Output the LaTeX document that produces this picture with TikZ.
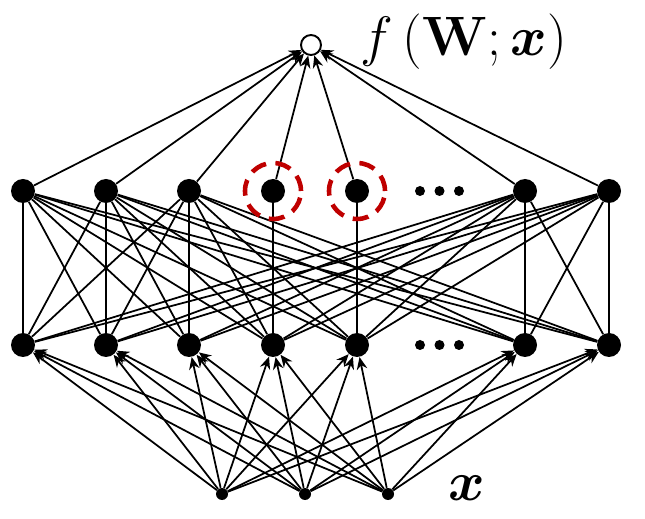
\documentclass[tikz,border=0pt]{standalone}
\usepackage{amsmath,amssymb,bm}
\usepackage{graphicx}
\usepackage{tikz}
\usetikzlibrary{arrows.meta}

\newcommand{\bigmath}[1]{\scalebox{1.27}{\fontsize{24.88}{28}\selectfont $#1$}}

\begin{document}
\begin{tikzpicture}[
  unit/.style={circle,fill=black,inner sep=0pt,minimum size=0.48cm},
  inp/.style={circle,fill=black,inner sep=0pt,minimum size=0.24cm},
  outp/.style={circle,draw=black,line width=1.1pt,fill=white,inner sep=0pt,minimum size=0.4cm},
  conn/.style={line width=1pt},
  feed/.style={line width=1pt,-{Stealth[length=7pt,width=6pt]}},
  pick/.style={draw=red!75!black,line width=2.6pt,dash pattern=on 0.32cm off 0.19cm}
]
\useasboundingbox (0,0) rectangle (12.9,10.36);

% hidden layers
\foreach \n/\x in {1/0.46,2/2.12,3/3.78,4/5.46,5/7.14,6/10.50,7/12.18} {
  \node[unit] (a\n) at (\x,3.46) {};
  \node[unit] (b\n) at (\x,6.54) {};
}
\foreach \x in {8.40,8.79,9.18} {
  \fill (\x,3.46) circle (0.1);
  \fill (\x,6.54) circle (0.1);
}
% input and output
\foreach \n/\x in {1/4.44,2/6.10,3/7.76}
  \node[inp] (i\n) at (\x,0.48) {};
\node[outp] (y) at (6.22,9.46) {};

\foreach \s in {1,2,3}
  \foreach \t in {1,...,7}
    \draw[feed] (i\s) -- (a\t);
% b4 and b5 only keep their vertical link
\foreach \s in {1,...,7}
  \foreach \t in {1,2,3,6,7}
    \draw[conn] (a\s) -- (b\t);
\draw[conn] (a4) -- (b4);
\draw[conn] (a5) -- (b5);
\foreach \s in {1,...,7}
  \draw[feed] (b\s) -- (y);

% selected units
\draw[pick] (b4) circle (0.56);
\draw[pick] (b5) circle (0.56);

\node[anchor=west,inner sep=0pt] (fy) at (7.2,9.52) {\bigmath{f\left(\mathbf{W};\boldsymbol{x}\right)}};
\node[inner sep=0pt] (xin) at (9.34,0.6) {\bigmath{\boldsymbol{x}}};
\end{tikzpicture}
\end{document}
